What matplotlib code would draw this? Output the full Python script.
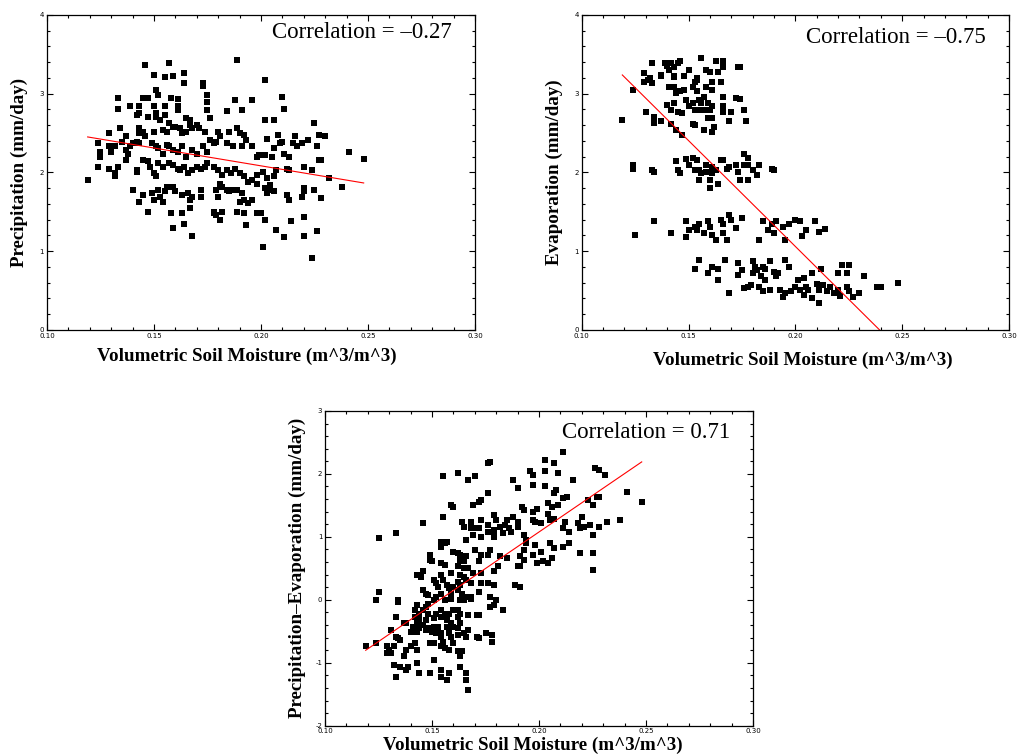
import numpy as np
import matplotlib.pyplot as plt
from matplotlib.ticker import MultipleLocator, FormatStrFormatter

# Panel 1: soil moisture vs precipitation
soil1 = [.146, .157, .159, .164, .150, .155, .164, .189, .202, .173,
         .173, .151, .152, .133, .145, .147, .158, .161, .175, .175,
         .188, .196, .210, .211, .133, .139, .143, .143, .150, .151,
         .155, .161, .161, .175, .184, .191, .202, .206, .142, .147,
         .151, .153, .155, .157, .159, .165, .167, .168, .170, .176,
         .167, .134, .137, .129, .143, .143, .145, .146, .150, .154,
         .156, .160, .162, .163, .165, .171, .174, .180, .185, .189,
         .190, .192, .203, .208, .210, .216, .225, .227, .230, .124,
         .125, .125, .129, .130, .132, .135, .137, .138, .139, .140,
         .142, .143, .149, .151, .152, .154, .156, .157, .159, .161,
         .163, .165, .168, .170, .173, .175, .176, .178, .179, .181,
         .184, .187, .191, .193, .196, .198, .199, .202, .205, .206,
         .209, .211, .213, .215, .217, .219, .222, .226, .227, .228,
         .119, .124, .129, .132, .132, .133, .137, .142, .142, .145,
         .147, .148, .150, .151, .152, .154, .157, .159, .161, .162,
         .164, .166, .168, .170, .172, .174, .175, .178, .180, .182,
         .184, .186, .188, .190, .192, .194, .196, .198, .201, .203,
         .204, .206, .207, .212, .213, .220, .224, .232, .140, .143,
         .145, .147, .149, .150, .152, .153, .154, .155, .156, .159,
         .160, .163, .166, .168, .167, .172, .172, .178, .179, .180,
         .181, .179, .182, .184, .185, .187, .189, .191, .192, .194,
         .196, .198, .202, .203, .204, .206, .212, .213, .219, .220,
         .220, .225, .228, .238, .241, .248, .158, .159, .163, .164,
         .167, .168, .178, .181, .182, .189, .190, .192, .193, .198,
         .200, .201, .202, .207, .211, .214, .220, .220, .226, .224]
precip = [3.37, 3.39, 3.23, 3.26, 3.24, 3.21, 3.14, 3.43, 3.17, 3.13,
          3.10, 3.05, 2.98, 2.94, 2.94, 2.94, 2.94, 2.93, 2.98, 2.90,
          2.92, 2.92, 2.96, 2.80, 2.81, 2.84, 2.84, 2.75, 2.84, 2.75,
          2.84, 2.84, 2.79, 2.79, 2.78, 2.79, 2.67, 2.67, 2.73, 2.71,
          2.71, 2.67, 2.73, 2.63, 2.58, 2.69, 2.60, 2.56, 2.60, 2.69,
          2.67, 2.57, 2.46, 2.50, 2.56, 2.50, 2.51, 2.46, 2.52, 2.54,
          2.52, 2.58, 2.56, 2.50, 2.52, 2.56, 2.52, 2.52, 2.52, 2.56,
          2.50, 2.48, 2.43, 2.48, 2.39, 2.46, 2.63, 2.48, 2.46, 2.37,
          2.26, 2.20, 2.33, 2.26, 2.33, 2.39, 2.29, 2.24, 2.33, 2.37,
          2.39, 2.37, 2.37, 2.33, 2.31, 2.24, 2.35, 2.33, 2.29, 2.26,
          2.33, 2.20, 2.29, 2.24, 2.33, 2.26, 2.41, 2.37, 2.39, 2.46,
          2.37, 2.33, 2.33, 2.41, 2.33, 2.20, 2.22, 2.22, 2.20, 2.31,
          2.37, 2.24, 2.20, 2.37, 2.33, 2.37, 2.41, 2.33, 2.16, 2.16,
          1.90, 2.07, 2.05, 1.99, 1.95, 2.07, 2.16, 2.03, 2.00, 2.16,
          2.14, 2.07, 1.99, 1.95, 2.12, 2.07, 2.12, 2.10, 2.05, 2.03,
          2.07, 1.99, 2.03, 2.07, 2.05, 2.07, 2.12, 2.07, 2.03, 1.97,
          2.03, 1.99, 2.05, 1.99, 1.95, 1.88, 1.90, 1.97, 2.01, 1.93,
          1.84, 1.95, 2.03, 2.05, 2.03, 2.07, 2.03, 1.93, 1.78, 1.62,
          1.71, 1.50, 1.74, 1.65, 1.78, 1.69, 1.63, 1.76, 1.82, 1.82,
          1.76, 1.71, 1.74, 1.69, 1.65, 1.78, 1.69, 1.50, 1.78, 1.69,
          1.86, 1.46, 1.82, 1.78, 1.76, 1.78, 1.78, 1.74, 1.65, 1.61,
          1.65, 1.86, 1.80, 1.74, 1.78, 1.76, 1.71, 1.65, 1.69, 1.80,
          1.76, 1.78, 1.67, 1.82, 2.26, 2.17, 1.48, 1.29, 1.48, 1.35,
          1.55, 1.19, 1.48, 1.40, 1.50, 1.50, 1.63, 1.48, 1.33, 1.48,
          1.48, 1.06, 1.40, 1.27, 1.18, 1.38, 1.44, 1.19, 1.26, 0.91]

# Panel 2: soil moisture vs evaporation
soil2 = [.119, .124, .129, .129, .131, .132, .133, .133, .130, .134,
         .134, .137, .137, .139, .140, .141, .142, .143, .143, .145,
         .146, .143, .141, .143, .144, .146, .140, .142, .143, .145,
         .147, .142, .144, .147, .149, .150, .150, .152, .153, .154,
         .154, .155, .156, .157, .152, .153, .152, .153, .155, .156,
         .158, .158, .160, .161, .159, .160, .161, .157, .157, .159,
         .161, .162, .161, .161, .163, .164, .165, .166, .166, .166,
         .166, .166, .169, .170, .172, .174, .173, .174, .176, .177,
         .154, .148, .148, .137,
         .124, .124, .133, .134, .144, .145, .146, .149, .150, .152,
         .154, .153, .155, .156, .158, .158, .155, .160, .161, .161,
         .163, .164, .160, .165, .166, .168, .169, .172, .173, .174,
         .176, .176, .178, .178, .178, .180, .182, .183, .189, .190,
         .125, .134, .142, .149, .150, .149, .153, .154, .155, .157,
         .159, .160, .161, .163, .165, .166, .166, .168, .169, .170,
         .172, .175, .183, .185, .187, .189, .190, .191, .194, .195,
         .197, .200, .202, .203, .205, .209, .211, .214,
         .153, .155, .159, .161, .164, .164, .167, .169, .173, .173,
         .175, .176, .178, .179, .180, .180, .181, .182, .184, .185,
         .186, .183, .185, .188, .188, .190, .191, .192, .193, .194,
         .195, .195, .197, .198, .200, .201, .202, .204, .205, .206,
         .208, .208, .210, .211, .211, .212, .213, .215, .216, .218,
         .220, .220, .221, .222, .224, .224, .225, .225, .227, .230,
         .232, .238, .240, .248, .204, .186]
evap = [2.67, 3.05, 3.26, 3.15, 3.17, 3.20, 3.39, 3.13, 2.77, 2.71,
        2.63, 2.66, 3.24, 3.39, 3.35, 3.30, 3.39, 3.22, 3.34, 3.39,
        3.42, 3.21, 3.09, 3.08, 3.01, 3.03, 2.86, 2.79, 2.88, 2.77,
        2.75, 2.62, 2.54, 2.48, 2.92, 2.84, 3.30, 3.09, 3.15, 3.03,
        3.20, 2.79, 3.45, 2.96, 2.88, 2.79, 2.62, 2.60, 2.92, 2.88,
        3.09, 3.30, 3.28, 3.15, 2.88, 2.79, 3.05, 2.79, 2.54, 2.69,
        2.69, 2.58, 2.52, 2.84, 3.41, 3.28, 3.15, 3.41, 3.34, 2.96,
        2.77, 2.84, 2.65, 2.77, 2.94, 2.93, 3.34, 3.34, 2.79, 2.65,
        3.18, 3.22, 3.05, 3.22,
        2.10, 2.05, 2.03, 2.01, 2.14, 2.03, 1.99, 2.17, 2.10, 2.18,
        2.16, 2.03, 2.03, 1.99, 2.10, 2.01, 1.90, 1.90, 1.99, 2.07,
        2.03, 1.86, 1.80, 2.16, 2.16, 2.05, 2.07, 2.10, 2.01, 1.90,
        2.10, 2.24, 2.18, 2.10, 1.90, 2.03, 1.97, 2.10, 2.05, 2.03,
        1.21, 1.38, 1.23, 1.38, 1.27, 1.18, 1.31, 1.27, 1.35, 1.23,
        1.38, 1.31, 1.21, 1.14, 1.40, 1.35, 1.23, 1.14, 1.46, 1.40,
        1.29, 1.42, 1.14, 1.38, 1.27, 1.35, 1.23, 1.38, 1.31, 1.14,
        1.35, 1.40, 1.38, 1.19, 1.27, 1.38, 1.25, 1.28,
        0.78, 0.89, 0.72, 0.80, 0.64, 0.78, 0.89, 0.47, 0.85, 0.70,
        0.76, 0.53, 0.55, 0.57, 0.87, 0.72, 0.80, 0.76, 0.68, 0.80,
        0.78, 0.55, 0.49, 0.51, 0.87, 0.74, 0.68, 0.72, 0.51, 0.42,
        0.89, 0.47, 0.80, 0.49, 0.55, 0.64, 0.51, 0.44, 0.55, 0.51,
        0.40, 0.72, 0.59, 0.51, 0.34, 0.77, 0.57, 0.49, 0.55, 0.47,
        0.72, 0.51, 0.43, 0.83, 0.55, 0.72, 0.83, 0.49, 0.42, 0.47,
        0.68, 0.55, 0.54, 0.60, 0.66, 0.64]

# Panel 3: soil moisture vs precipitation minus evaporation
soil3 = [.211, .203, .207, .203, .209, .196, .197, .216, .226, .228,
         .231, .188, .190, .197, .203, .207, .208, .211, .213, .241,
         .248, .223, .225, .227, .228, .204, .206, .209, .192, .193,
         .197, .199, .188, .190, .185, .184, .179, .180, .182, .179,
         .179, .183, .186, .187, .190, .193, .194, .197, .198, .201,
         .204, .205, .207, .211, .212, .214, .218, .219, .221, .220,
         .224, .225, .228, .232, .238, .219, .225, .225, .205, .207,
         .211, .214, .194, .193, .197, .198, .201, .202, .204, .206,
         .191, .193, .190, .191, .199, .189, .191, .155, .162, .167,
         .170, .176, .177, .159, .160, .172, .173, .176, .169, .164,
         .165, .168, .168, .170, .172, .176, .173, .155, .146, .125,
         .133, .166, .169, .173, .176, .179, .170, .173, .177, .176,
         .172, .179, .182, .185, .181, .154, .156, .157, .154, .160,
         .162, .163, .165, .166, .165, .163, .162, .165, .167, .149,
         .149, .150, .154, .156, .159, .163, .165, .166, .168, .169,
         .173, .173, .176, .179, .143, .145, .146, .146, .147, .151,
         .152, .153, .154, .155, .157, .158, .159, .160, .162, .162,
         .163, .164, .159, .165, .166, .168, .168, .172, .177, .180,
         .179, .183, .152, .154, .156, .151, .148, .148, .147, .146,
         .144, .143, .142, .142, .144, .146, .147, .148, .151, .152,
         .154, .154, .156, .157, .158, .160, .162, .162, .163, .163,
         .167, .171, .172, .177, .167, .165, .166, .171, .172, .175,
         .178, .178, .143, .141, .140, .138, .143, .144, .147, .148,
         .150, .151, .152, .153, .154, .154, .155, .157, .158, .159,
         .160, .159, .162, .162, .163, .149, .151, .154, .156, .158,
         .160, .162, .164, .163, .158, .157, .154, .154, .151, .149,
         .144, .143, .139, .138, .135, .140, .142, .143, .138, .137,
         .135, .134, .133, .132, .131, .130, .129, .129, .132, .133,
         .131, .133, .134, .134, .124, .125, .119, .124, .137, .166,
         .166, .167, .163]
pme = [2.35, 2.22, 2.17, 2.04, 2.01, 2.04, 1.98, 1.90, 2.10, 2.06,
       1.98, 1.90, 1.77, 1.83, 1.80, 1.70, 1.75, 1.61, 1.64, 1.72,
       1.56, 1.59, 1.51, 1.64, 1.64, 1.54, 1.48, 1.51, 1.48, 1.43,
       1.40, 1.45, 1.32, 1.24, 1.27, 1.19, 1.35, 1.27, 1.16, 1.11,
       1.06, 1.06, 1.14, 1.08, 1.16, 1.03, 0.95, 1.27, 1.24, 1.22,
       1.37, 1.27, 1.29, 1.14, 1.24, 1.08, 1.22, 1.14, 1.16, 1.32,
       1.19, 1.03, 1.16, 1.24, 1.27, 0.74, 0.74, 0.47, 0.90, 0.82,
       0.84, 0.90, 0.90, 0.79, 0.71, 0.87, 0.76, 0.61, 0.58, 0.66,
       0.69, 0.63, 0.53, 0.53, 0.58, 0.24, 0.21, 1.96, 2.01, 1.90,
       1.96, 2.17, 2.19, 1.51, 1.48, 1.56, 1.59, 1.70, 1.51, 1.24,
       1.16, 1.24, 1.14, 1.14, 1.14, 1.19, 1.27, 1.32, 1.22, 0.98,
       1.06, 0.95, 1.03, 1.00, 1.08, 1.00, 0.79, 0.71, 0.79, 0.71,
       0.61, 0.45, 0.69, 0.66, 0.53, 0.92, 0.90, 0.92, 0.84, 0.76,
       0.74, 0.71, 0.66, 0.69, 0.61, 0.61, 0.53, 0.50, 0.50, 0.71,
       0.63, 0.61, 0.58, 0.55, 0.42, 0.39, 0.37, 0.31, 0.26, 0.42,
       0.42, 0.26, 0.26, 0.24, 0.39, 0.37, 0.45, 0.15, 0.10, 0.31,
       0.26, 0.21, 0.39, 0.31, 0.24, 0.18, 0.10, 0.21, 0.15, 0.29,
       0.24, 0.10, 0.02, 0.00, 0.05, 0.02, 0.05, 0.13, 0.05, 0.00,
       -0.08, -0.16, 0.05, 0.10, 0.00, 0.00, 0.07, -0.06, -0.11, -0.16,
       -0.22, -0.08, -0.16, -0.27, -0.32, -0.40, -0.32, -0.22, -0.29, -0.22,
       -0.16, -0.27, -0.22, -0.32, -0.22, -0.16, -0.27, -0.16, 0.00, -0.22,
       -0.24, -0.24, -0.24, -0.11, -0.48, -0.53, -0.59, -0.59, -0.61, -0.53,
       -0.56, -0.67, -0.37, -0.43, -0.51, -0.37, -0.51, -0.45, -0.48, -0.45,
       -0.51, -0.43, -0.53, -0.43, -0.59, -0.53, -0.67, -0.43, -0.53, -0.37,
       -0.43, -0.59, -0.45, -0.56, -0.37, -0.69, -0.69, -0.74, -0.77, -0.80,
       -0.69, -0.82, -0.82, -1.06, -1.17, -1.27, -1.12, -1.22, -0.96, -1.17,
       -1.17, -1.01, -1.06, -1.12, -1.06, -0.74, -0.69, -0.80, -0.80, -0.90,
       -0.64, -0.61, -0.59, -0.74, -0.85, -0.80, -0.74, -0.85, -1.04, -1.22,
       -0.48, -0.27, -0.03, 0.00, 0.00, 0.13, -0.74, -0.69, -0.37, -1.17,
       -1.27, -1.43, -0.90]

x_label = "Volumetric Soil Moisture (m^3/m^3)"
y_labels = ["Precipitation (mm/day)", "Evaporation (mm/day)",
            "Precipitation\u2013Evaporation (mm/day)"]
corr_texts = ["Correlation = \u20130.27", "Correlation = \u20130.75",
              "Correlation = 0.71"]

serif = "Liberation Serif"

fig = plt.figure(figsize=(10.17, 7.56), dpi=100)
axes = [fig.add_axes([0.0462, 0.5635, 0.4208, 0.4167]),
        fig.add_axes([0.5720, 0.5635, 0.4202, 0.4167]),
        fig.add_axes([0.3196, 0.0401, 0.4208, 0.4163])]
panels = [(soil1, precip, 0, 4), (soil2, evap, 0, 4), (soil3, pme, -2, 3)]
xlab_pos = [(0.467, -0.057), (0.518, -0.07), (0.486, -0.036)]
corr_y = [0.943, 0.93, 0.93]

for i, ax in enumerate(axes):
    x, y, ylo, yhi = panels[i]
    x = np.array(x)
    y = np.array(y)
    ax.scatter(x, y, s=13, marker="s", c="black", linewidths=0)
    # least squares line over the data range
    coef = np.polyfit(x, y, 1)
    xs = np.array([x.min(), x.max()])
    ax.plot(xs, np.polyval(coef, xs), color="red", lw=0.8)

    ax.set_xlim(0.10, 0.30)
    ax.set_ylim(ylo, yhi)
    ax.xaxis.set_major_locator(MultipleLocator(0.05))
    ax.xaxis.set_minor_locator(MultipleLocator(0.01))
    ax.yaxis.set_major_locator(MultipleLocator(1))
    ax.yaxis.set_minor_locator(MultipleLocator(0.2))
    ax.xaxis.set_major_formatter(FormatStrFormatter("%.2f"))
    ax.yaxis.set_major_formatter(FormatStrFormatter("%d"))
    ax.tick_params(which="both", direction="in", top=True, right=True,
                   labelsize=5, width=0.8, pad=2)
    ax.tick_params(which="major", length=4.5)
    ax.tick_params(which="minor", length=2.2)
    for s in ax.spines.values():
        s.set_linewidth(0.9)

    ax.set_xlabel(x_label, family=serif, fontweight="bold", fontsize=13.7)
    ax.xaxis.set_label_coords(*xlab_pos[i])
    ax.set_ylabel(y_labels[i], family=serif, fontweight="bold", fontsize=13.7)
    ax.yaxis.set_label_coords(-0.044, 0.5)
    ax.text(0.946, corr_y[i], corr_texts[i], transform=ax.transAxes,
            ha="right", va="center", family=serif, fontsize=16.5)

fig.savefig("out.png", dpi=100)
